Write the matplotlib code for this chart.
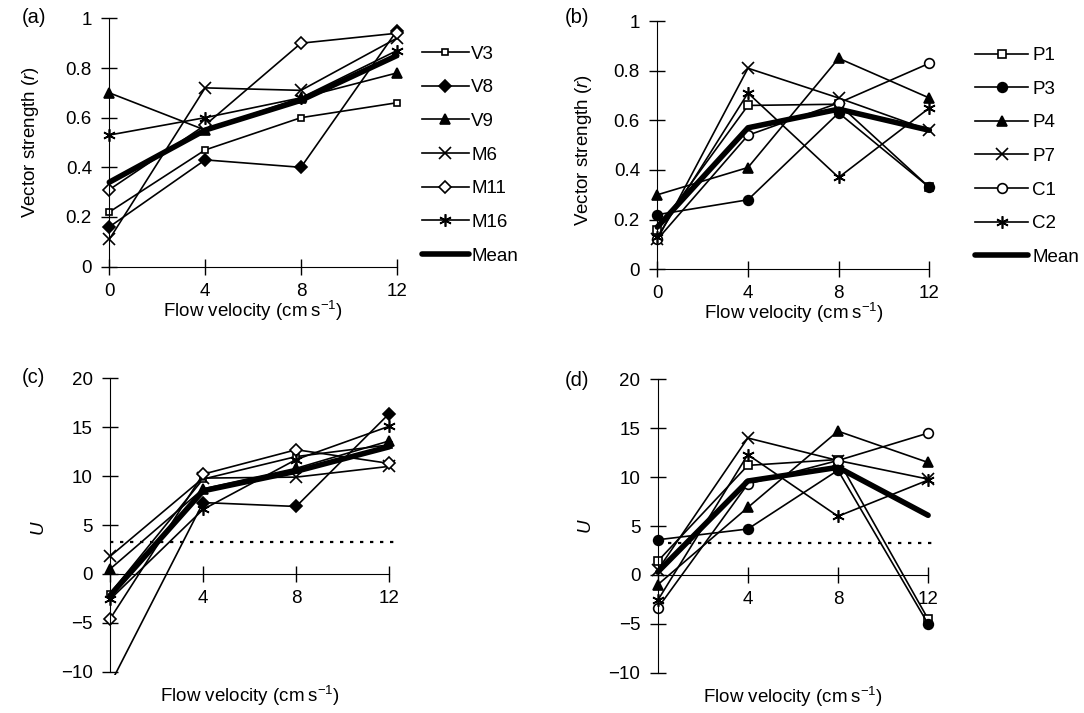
import matplotlib
matplotlib.use("Agg")
from matplotlib import pyplot as plt

plt.rcParams["font.family"] = ["Liberation Sans", "DejaVu Sans"]
plt.rcParams["mathtext.fontset"] = "custom"
plt.rcParams["mathtext.rm"] = "Liberation Sans"
plt.rcParams["mathtext.it"] = "Liberation Sans:italic"
plt.rcParams["font.size"] = 13.5

velocity = [0, 4, 8, 12]

# (a) vector strength, V/M fish
a_names = ["V3", "V8", "V9", "M6", "M11", "M16"]
a_V3 = [0.22, 0.47, 0.60, 0.66]
a_V8 = [0.16, 0.43, 0.40, 0.95]
a_V9 = [0.70, 0.55, 0.68, 0.78]
a_M6 = [0.11, 0.72, 0.71, 0.92]
a_M11 = [0.31, 0.57, 0.90, 0.94]
a_M16 = [0.53, 0.60, 0.68, 0.87]
a_mean = [0.34, 0.55, 0.67, 0.85]

# (b) vector strength, P/C fish
b_names = ["P1", "P3", "P4", "P7", "C1", "C2"]
b_P1 = [0.16, 0.66, 0.665, 0.33]
b_P3 = [0.22, 0.28, 0.63, 0.33]
b_P4 = [0.30, 0.41, 0.85, 0.69]
b_P7 = [0.12, 0.81, 0.69, 0.56]
b_C1 = [0.12, 0.54, 0.67, 0.83]
b_C2 = [0.13, 0.71, 0.37, 0.65]
b_mean = [0.17, 0.57, 0.645, 0.56]

# (c) U, V/M fish
c_V3 = [-2.0, 9.7, 12.0, 13.2]
c_V8 = [-11.3, 7.3, 6.9, 16.4]
c_V9 = [0.5, 8.7, 10.8, 13.6]
c_M6 = [1.8, 9.8, 9.9, 11.0]
c_M11 = [-4.6, 10.2, 12.7, 11.3]
c_M16 = [-2.6, 6.6, 11.7, 15.1]
c_mean = [-2.2, 8.5, 10.5, 13.0]

# (d) U, P/C fish
d_P1 = [1.4, 11.2, 11.8, -4.5]
d_P3 = [3.6, 4.7, 10.7, -5.0]
d_P4 = [-1.0, 6.9, 14.7, 11.5]
d_P7 = [0.5, 14.0, 11.7, 9.8]
d_C1 = [-3.4, 9.3, 11.7, 14.5]
d_C2 = [-2.6, 12.3, 6.0, 9.7]
d_mean = [0.3, 9.6, 11.0, 6.1]

u_threshold = 3.3

asterisk = (6, 2, 0)
# marker, size, face colour
a_styles = [("s", 5, "white"), ("D", 6, "black"), ("^", 7, "black"),
            ("x", 8, "black"), ("D", 6, "white"), (asterisk, 9, "black")]
b_styles = [("s", 6, "white"), ("o", 7, "black"), ("^", 7, "black"),
            ("x", 8, "black"), ("o", 7, "white"), (asterisk, 9, "black")]


def draw(ax, series, mean, names, styles):
    for vals, name, (m, ms, fc) in zip(series, names, styles):
        ax.plot(velocity, vals, color="black", lw=1.2, marker=m, ms=ms,
                mfc=fc, mec="black", mew=1.2, label=name)
    ax.plot(velocity, mean, color="black", lw=4, solid_capstyle="round",
            label="Mean")


def style(ax, ylim, yticks, ylabels, ybounds, xzero_label=True):
    ax.set_xlim(-0.4, 12.4)
    ax.set_ylim(*ylim)
    for s in ["top", "right"]:
        ax.spines[s].set_visible(False)
    ax.spines["left"].set_position(("data", 0))
    ax.spines["bottom"].set_position(("data", 0))
    ax.spines["left"].set_bounds(*ybounds)
    ax.spines["bottom"].set_bounds(0, 12)
    ax.set_xticks(velocity)
    if xzero_label:
        ax.set_xticklabels([str(v) for v in velocity])
    else:
        ax.set_xticklabels([""] + [str(v) for v in velocity[1:]])
    ax.set_yticks(yticks)
    ax.set_yticklabels(ylabels)
    ax.tick_params(direction="inout", length=11, width=1, pad=7)
    ax.tick_params(axis="x", pad=6)
    ax.patch.set_visible(False)


fig = plt.figure(figsize=(10.84, 7.13), dpi=100)

ax_a = fig.add_axes([0.092, 0.6156, 0.2829, 0.3691])
ax_b = fig.add_axes([0.598, 0.6119, 0.2677, 0.369])
ax_c = fig.add_axes([0.0929, 0.0536, 0.2748, 0.4227])
ax_d = fig.add_axes([0.5984, 0.0522, 0.2661, 0.4227])

r_ticks = [0, 0.2, 0.4, 0.6, 0.8, 1]
r_labels = ["0", "0.2", "0.4", "0.6", "0.8", "1"]
u_ticks = [-10, -5, 0, 5, 10, 15, 20]
u_labels = ["\u221210", "\u22125", "0", "5", "10", "15", "20"]

draw(ax_a, [a_V3, a_V8, a_V9, a_M6, a_M11, a_M16], a_mean, a_names, a_styles)
draw(ax_b, [b_P1, b_P3, b_P4, b_P7, b_C1, b_C2], b_mean, b_names, b_styles)
draw(ax_c, [c_V3, c_V8, c_V9, c_M6, c_M11, c_M16], c_mean, a_names, a_styles)
draw(ax_d, [d_P1, d_P3, d_P4, d_P7, d_C1, d_C2], d_mean, b_names, b_styles)

style(ax_a, (-0.03, 1.03), r_ticks, r_labels, (0, 1))
style(ax_b, (-0.03, 1.03), r_ticks, r_labels, (0, 1))
style(ax_c, (-10.3, 20.5), u_ticks, u_labels, (-10, 20), xzero_label=False)
style(ax_d, (-10.3, 20.5), u_ticks, u_labels, (-10, 20), xzero_label=False)

# dotted significance level
for ax in [ax_c, ax_d]:
    lo, hi = ax.get_xlim()
    ax.axhline(u_threshold, xmin=(0 - lo) / (hi - lo), xmax=(12.3 - lo) / (hi - lo),
               color="black", lw=1.6, ls=(0, (1.5, 3)))

xlab = "Flow velocity (cm\u2009s$^{-1}$)"
for ax in [ax_a, ax_b]:
    ax.set_xlabel(xlab, va="top")
    ax.xaxis.set_label_coords(0.5, -0.093)
    ax.set_ylabel("Vector strength ($r$)")
ax_a.yaxis.set_label_coords(-0.19, 0.5)
ax_b.yaxis.set_label_coords(-0.187, 0.48)

for ax in [ax_c, ax_d]:
    ax.set_xlabel(xlab, va="top")
    ax.xaxis.set_label_coords(0.5, -0.03)
    ax.set_ylabel("U", style="italic")
ax_c.yaxis.set_label_coords(-0.18, 0.49)
ax_d.yaxis.set_label_coords(-0.19, 0.50)

# legends
ax_a.legend(loc="upper left", bbox_to_anchor=(0.389, 0.936), bbox_transform=fig.transFigure,
            frameon=False, handlelength=2.5, handletextpad=0.15, labelspacing=0.88,
            borderpad=0, borderaxespad=0, fontsize=13.5)
ax_b.legend(loc="upper left", bbox_to_anchor=(0.8995, 0.934), bbox_transform=fig.transFigure,
            frameon=False, handlelength=2.85, handletextpad=0.2, labelspacing=0.88,
            borderpad=0, borderaxespad=0, fontsize=13.5)

fig.text(0.020, 0.975, "(a)", fontsize=14.5, va="center")
fig.text(0.521, 0.975, "(b)", fontsize=14.5, va="center")
fig.text(0.020, 0.470, "(c)", fontsize=14.5, va="center")
fig.text(0.521, 0.467, "(d)", fontsize=14.5, va="center")

fig.savefig("out.png", dpi=100)
